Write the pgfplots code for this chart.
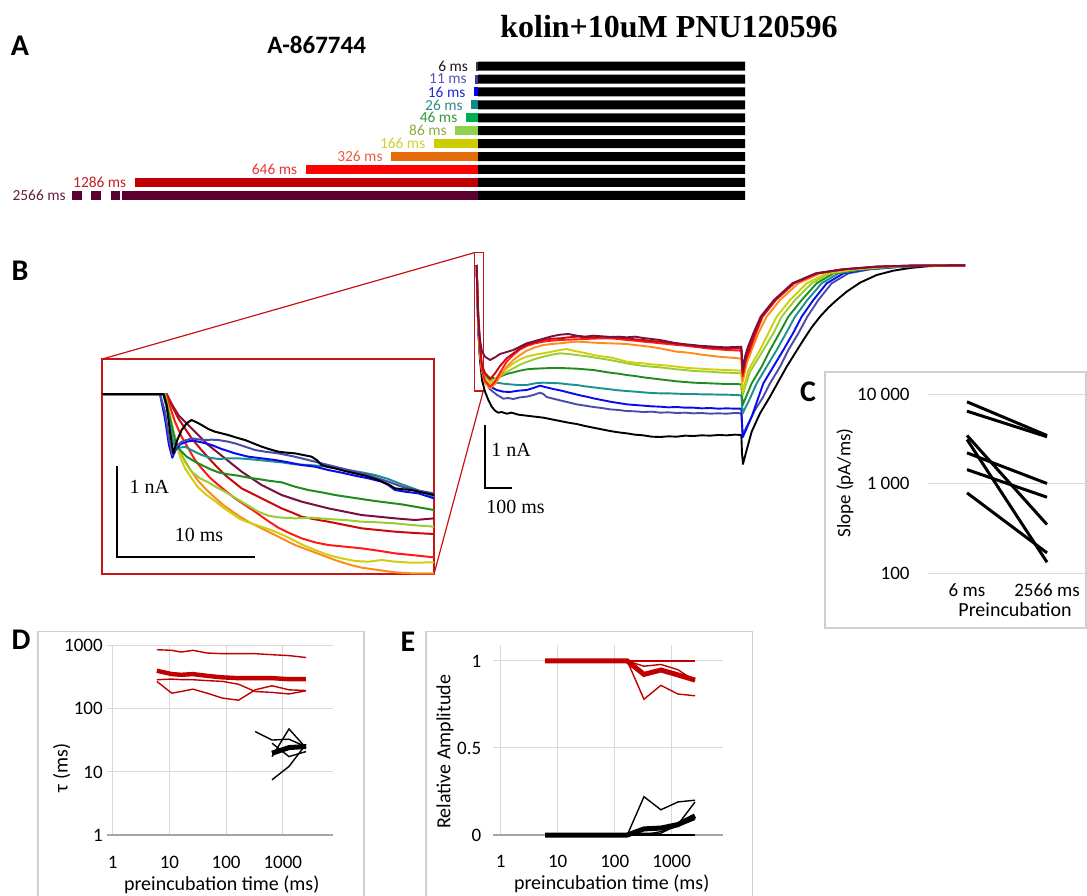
\documentclass[border=0pt]{standalone}
\usepackage{fontspec}
\setmainfont{Carlito}
\newfontfamily\timesfont{Liberation Serif}
\usepackage{pgfplots}
\pgfplotsset{compat=1.18}

\definecolor{tr11}{HTML}{4B4BA8}
\definecolor{tr16}{HTML}{0A0AF0}
\definecolor{tr26}{HTML}{1A9090}
\definecolor{tr46}{HTML}{1E8C1E}
\definecolor{tr86}{HTML}{9ACD32}
\definecolor{tr166}{HTML}{CFCF10}
\definecolor{tr326}{HTML}{FF8C1A}
\definecolor{tr646}{HTML}{FF1A1A}
\definecolor{tr1286}{HTML}{C80A0A}
\definecolor{tr2566}{HTML}{7A1040}
\definecolor{bar6}{HTML}{3A3A4A}
\definecolor{bar11}{HTML}{3C3C9C}
\definecolor{bar16}{HTML}{0000FF}
\definecolor{bar26}{HTML}{0E8A8A}
\definecolor{bar46}{HTML}{00B050}
\definecolor{bar86}{HTML}{92D050}
\definecolor{bar166}{HTML}{CCCC00}
\definecolor{bar326}{HTML}{E46C0A}
\definecolor{bar646}{HTML}{FF0000}
\definecolor{bar1286}{HTML}{C00000}
\definecolor{bar2566}{HTML}{5C0030}
\definecolor{lab6}{HTML}{1A1A1A}
\definecolor{lab11}{HTML}{5555B0}
\definecolor{lab16}{HTML}{2525E0}
\definecolor{lab26}{HTML}{2E8A8A}
\definecolor{lab46}{HTML}{2E9A3A}
\definecolor{lab86}{HTML}{8AAE3A}
\definecolor{lab166}{HTML}{D0D030}
\definecolor{lab326}{HTML}{E8603A}
\definecolor{lab646}{HTML}{EE3030}
\definecolor{lab1286}{HTML}{C02020}
\definecolor{lab2566}{HTML}{602040}
\definecolor{boxred}{HTML}{C81414}
\definecolor{datred}{HTML}{C00000}
\definecolor{gridgray}{HTML}{D9D9D9}
\definecolor{framegray}{HTML}{D0D0D0}
\definecolor{axisgray}{HTML}{A6A6A6}

\pgfplotsset{
  panel/.style={scale only axis, no markers, clip=false,
    every tick label/.append style={inner sep=0pt, font=\fontsize{9.5}{11}\selectfont},
    tick style={draw=none}, axis line style={draw=none},
    grid style={draw=gridgray, line width=0.5pt}},
  trace/.style={line width=0.95pt, line join=round},
  itrace/.style={line width=1pt, line join=round},
  cline/.style={black, line width=1.5pt},
}

\begin{document}
\begin{tikzpicture}
\begin{scope}[x=0.5pt,y=-0.5pt]
\path[use as bounding box] (0,0) rectangle (1087,895);
% ---------------- titles and panel letters
\node[font=\bfseries\fontsize{15}{18}\selectfont] at (20,45.5) {A};
\node[font=\bfseries\fontsize{12.5}{15}\selectfont] at (316.7,45) {A-867744};
\node[font=\timesfont\bfseries\fontsize{16}{19}\selectfont, anchor=base] at (669,37) {kolin+10uM PNU120596};
\node[font=\bfseries\fontsize{15}{18}\selectfont] at (20,271) {B};
\node[font=\bfseries\fontsize{15}{18}\selectfont] at (808,392) {C};
\node[font=\bfseries\fontsize{15}{18}\selectfont] at (21,640) {D};
\node[font=\bfseries\fontsize{15}{18}\selectfont] at (408,642) {E};
% zoom box and connectors
\draw[boxred, line width=0.75pt] (474.3,252.7) rectangle (483.3,391);
\draw[boxred, line width=0.6pt] (474.3,252.7) -- (102.3,359);
\draw[boxred, line width=0.6pt] (483.3,391) -- (434,574);
% B scale bar
\draw[black, line width=1.1pt] (485,425) -- (485,488) -- (512.3,488);
\node[font=\timesfont\fontsize{10}{12}\selectfont, anchor=west, inner sep=0pt] at (491,450) {1 nA};
\node[font=\timesfont\fontsize{10}{12}\selectfont, anchor=west, inner sep=0pt] at (486,507) {100 ms};
% frames
\draw[framegray, line width=0.7pt] (825,372) rectangle (1086,628);
\draw[framegray, line width=0.7pt] (38,896) -- (38,631.5) -- (364,631.5) -- (364,896);
\draw[framegray, line width=0.7pt] (426,896) -- (426,631.7) -- (752.7,631.7) -- (752.7,896);
% axis titles
\node[rotate=90, font=\fontsize{9.5}{11}\selectfont] at (845,483) {Slope (pA/ms)};
\node[font=\fontsize{10}{12}\selectfont] at (1015,610) {Preincubation};
\node[rotate=90, font=\fontsize{10}{12}\selectfont] at (61.7,768) {τ (ms)};
\node[font=\fontsize{10}{12}\selectfont] at (221.7,885) {preincubation time (ms)};
\node[rotate=90, font=\fontsize{10}{12}\selectfont] at (445,751.7) {Relative Amplitude};
\node[font=\fontsize{10}{12}\selectfont] at (611.7,883.3) {preincubation time (ms)};
\end{scope}

% ---------------- Panel A: protocol bars (ms)
\begin{axis}[at={(32.075pt,-29.85pt)}, anchor=north west, scale only axis,
  width=340.43pt, height=71pt, xmin=-1550, xmax=1000, ymin=-0.5, ymax=10.5,
  y dir=reverse, hide axis, clip=false]
\pgfplotsset{every axis plot/.append style={xbar, bar width=4.5pt, bar shift=0pt, draw=none}}
\addplot[fill=black] coordinates {(1000,0) (1000,1) (1000,2) (1000,3) (1000,4) (1000,5) (1000,6) (1000,7) (1000,8) (1000,9) (1000,10)};
\addplot[fill=bar6] coordinates {(-6,0)};
\addplot[fill=bar11] coordinates {(-11,1)};
\addplot[fill=bar16] coordinates {(-16,2)};
\addplot[fill=bar26] coordinates {(-26,3)};
\addplot[fill=bar46] coordinates {(-46,4)};
\addplot[fill=bar86] coordinates {(-86,5)};
\addplot[fill=bar166] coordinates {(-166,6)};
\addplot[fill=bar326] coordinates {(-326,7)};
\addplot[fill=bar646] coordinates {(-646,8)};
\addplot[fill=bar1286] coordinates {(-1286,9)};
\addplot[fill=bar2566] coordinates {(-1333,10)};
\end{axis}
\begin{axis}[at={(32.075pt,-29.85pt)}, anchor=north west, scale only axis,
  width=340.43pt, height=71pt, xmin=-1550, xmax=1000, ymin=-0.5, ymax=10.5,
  y dir=reverse, hide axis, clip=false]
\addplot[fill=bar2566, draw=none] coordinates {(-1374,9.65) (-1341,9.65) (-1341,10.35) (-1374,10.35)} -- cycle;
\addplot[fill=bar2566, draw=none] coordinates {(-1449,9.65) (-1412,9.65) (-1412,10.35) (-1449,10.35)} -- cycle;
\addplot[fill=bar2566, draw=none] coordinates {(-1521,9.65) (-1483,9.65) (-1483,10.35) (-1521,10.35)} -- cycle;
\begin{scope}[every node/.style={anchor=east, inner sep=0pt, font=\fontsize{7.7}{9}\selectfont}]
\node[text=lab6] at (axis cs:-36,0) {6 ms};
\node[text=lab11] at (axis cs:-41,1) {11 ms};
\node[text=lab16] at (axis cs:-46,2) {16 ms};
\node[text=lab26] at (axis cs:-56,3) {26 ms};
\node[text=lab46] at (axis cs:-76,4) {46 ms};
\node[text=lab86] at (axis cs:-116,5) {86 ms};
\node[text=lab166] at (axis cs:-196,6) {166 ms};
\node[text=lab326] at (axis cs:-356,7) {326 ms};
\node[text=lab646] at (axis cs:-676,8) {646 ms};
\node[text=lab1286] at (axis cs:-1316,9) {1286 ms};
\node[text=lab2566] at (axis cs:-1543,10) {2566 ms};
\end{scope}
\end{axis}

% ---------------- Panel B: current traces (pixel-scale units)
\begin{axis}[at={(230pt,-120pt)}, anchor=north west, scale only axis, width=265pt, height=120pt,
  xmin=0, xmax=1590, ymin=0, ymax=720, y dir=reverse, hide axis, clip=false, no markers]
\addplot[trace, black] coordinates {(50,75) (52,170) (55,270) (60,360) (66,420) (75,455) (85,480) (95,500) (105,512) (115,518) (125,516) (140,521) (155,518) (175,524) (200,527) (225,530) (250,533) (275,538) (300,543) (325,548) (350,552) (375,558) (400,563) (425,568) (450,573) (475,577) (500,580) (525,584) (550,586) (575,590) (600,591) (625,589) (650,590) (675,587) (700,588) (725,586) (750,587) (775,585) (800,586) (825,584) (844,585) (846,640) (849,672) (852,660) (860,630) (875,575) (900,520) (930,470) (955,425) (980,380) (1005,340) (1030,300) (1055,262) (1080,230) (1105,203) (1130,180) (1160,155) (1200,128) (1250,105) (1300,92) (1350,84) (1400,79) (1450,77) (1515,76)};
\addplot[trace, tr11] coordinates {(50,75) (52,170) (55,270) (60,350) (66,395) (75,425) (90,448) (110,464) (130,476) (145,474) (160,477) (180,472) (200,470) (220,465) (240,458) (250,462) (260,471) (280,476) (300,481) (325,487) (350,493) (375,497) (400,501) (425,504) (450,508) (475,510) (500,513) (525,514) (550,516) (575,515) (600,518) (625,517) (650,519) (675,518) (700,520) (725,519) (750,521) (775,520) (800,521) (825,519) (844,520) (848,585) (860,560) (885,510) (910,470) (930,430) (960,380) (985,330) (1015,280) (1042,230) (1075,180) (1115,130) (1165,100) (1230,88) (1330,80) (1430,77) (1515,76)};
\addplot[trace, tr16] coordinates {(50,75) (52,170) (55,270) (60,350) (66,395) (75,420) (85,435) (95,442) (110,450) (130,455) (150,456) (175,452) (200,450) (220,444) (240,437) (255,441) (280,447) (300,451) (320,456) (340,461) (360,466) (380,470) (400,475) (425,480) (450,485) (475,489) (500,493) (525,495) (550,497) (575,499) (600,500) (625,502) (650,501) (675,503) (700,503) (725,505) (750,504) (775,506) (800,505) (825,506) (844,506) (848,592) (860,565) (875,530) (910,430) (940,380) (970,330) (1000,278) (1025,230) (1060,180) (1100,130) (1150,100) (1220,88) (1320,80) (1420,77) (1515,76)};
\addplot[trace, tr26] coordinates {(50,75) (52,165) (55,260) (60,345) (66,385) (75,405) (90,420) (110,428) (130,431) (150,433) (175,435) (200,435) (225,430) (250,428) (275,429) (300,430) (325,433) (350,435) (375,439) (400,442) (425,445) (450,448) (475,451) (500,453) (525,455) (550,457) (575,459) (600,460) (625,460) (650,461) (675,462) (700,462) (725,463) (750,463) (775,464) (800,464) (825,465) (844,466) (848,520) (870,475) (890,430) (920,380) (950,330) (978,280) (1005,230) (1042,180) (1085,130) (1135,100) (1210,88) (1310,80) (1410,77) (1515,76)};
\addplot[trace, tr46] coordinates {(50,75) (52,165) (55,255) (60,340) (66,380) (75,400) (90,414) (110,415) (125,408) (140,402) (160,397) (180,392) (200,388) (225,386) (250,385) (275,384) (300,384) (325,385) (350,386) (375,388) (400,390) (425,394) (450,398) (475,401) (500,405) (525,408) (550,412) (575,415) (600,418) (625,421) (650,424) (675,426) (700,428) (725,429) (750,430) (775,431) (800,432) (825,432) (844,433) (848,495) (875,430) (905,380) (930,330) (958,280) (985,230) (1025,180) (1070,130) (1120,100) (1200,88) (1300,80) (1400,77) (1515,76)};
\addplot[trace, tr86] coordinates {(50,75) (52,160) (55,250) (60,335) (66,385) (75,412) (90,424) (105,418) (120,408) (140,396) (160,385) (180,374) (200,366) (225,357) (250,350) (275,344) (300,340) (325,342) (350,345) (375,348) (400,352) (425,356) (450,360) (475,365) (500,370) (525,374) (550,378) (575,380) (600,382) (625,385) (650,388) (675,390) (700,393) (725,394) (750,395) (775,397) (800,398) (825,399) (844,400) (848,465) (870,395) (910,330) (940,280) (965,230) (1005,180) (1055,130) (1110,100) (1190,88) (1290,80) (1390,77) (1515,76)};
\addplot[trace, tr166] coordinates {(50,75) (52,160) (55,250) (60,335) (66,390) (75,420) (90,430) (105,418) (120,402) (140,385) (160,370) (180,358) (200,350) (225,344) (250,340) (275,335) (300,330) (320,327) (340,332) (360,336) (380,340) (400,345) (425,349) (450,352) (475,358) (500,365) (525,368) (550,370) (575,373) (600,375) (625,377) (650,380) (675,383) (700,385) (725,386) (750,388) (775,389) (800,390) (825,391) (844,392) (848,455) (865,390) (900,330) (925,280) (950,230) (990,180) (1040,130) (1100,100) (1180,88) (1280,80) (1380,77) (1515,76)};
\addplot[trace, tr326] coordinates {(50,75) (52,155) (55,245) (60,330) (66,395) (75,430) (90,445) (105,432) (120,410) (140,380) (160,360) (180,345) (200,332) (225,322) (250,315) (275,312) (300,310) (325,307) (350,305) (375,306) (400,308) (425,309) (450,310) (475,311) (500,312) (525,315) (550,318) (575,321) (600,325) (625,330) (650,335) (675,337) (700,340) (725,344) (750,347) (775,350) (800,352) (825,354) (844,356) (848,425) (860,370) (875,330) (895,280) (920,230) (960,180) (1015,130) (1080,100) (1160,88) (1260,80) (1360,77) (1515,76)};
\addplot[trace, tr646] coordinates {(50,75) (52,155) (55,240) (60,325) (66,390) (75,422) (90,440) (105,425) (120,398) (140,365) (160,345) (180,328) (200,318) (225,310) (250,305) (275,302) (300,300) (325,299) (350,298) (375,297) (400,296) (425,295) (450,295) (475,297) (500,300) (525,302) (550,305) (575,307) (600,310) (625,312) (650,315) (675,317) (700,320) (725,323) (750,326) (775,328) (800,330) (825,331) (844,332) (848,410) (858,360) (870,330) (888,280) (908,230) (948,180) (1003,130) (1073,100) (1153,88) (1253,80) (1353,77) (1515,76)};
\addplot[trace, tr1286] coordinates {(50,75) (52,155) (55,240) (60,320) (66,375) (75,400) (90,418) (105,400) (120,378) (140,355) (160,340) (180,325) (200,315) (225,306) (250,300) (275,296) (300,295) (325,292) (350,290) (375,291) (400,292) (425,290) (450,291) (475,293) (500,295) (525,298) (550,300) (575,303) (600,305) (625,308) (650,310) (675,313) (700,317) (725,320) (750,322) (775,324) (800,325) (825,325) (844,326) (848,400) (856,360) (866,330) (884,280) (905,230) (945,180) (1000,130) (1070,100) (1150,88) (1250,80) (1350,77) (1515,76)};
\addplot[trace, tr2566] coordinates {(50,75) (52,150) (55,230) (60,300) (66,335) (75,350) (90,360) (105,352) (120,342) (140,336) (160,330) (180,320) (200,310) (225,303) (250,296) (275,289) (300,284) (325,282) (350,287) (375,290) (400,287) (425,289) (450,291) (475,290) (500,292) (525,290) (550,294) (575,297) (600,300) (625,305) (650,310) (675,313) (700,315) (725,318) (750,319) (775,321) (800,322) (825,321) (844,320) (848,390) (855,350) (864,320) (880,280) (902,230) (942,180) (997,130) (1067,100) (1147,88) (1247,80) (1347,77) (1515,76)};
\end{axis}

% ---------------- Inset (pixel-scale units)
\begin{axis}[at={(51.15pt,-179.5pt)}, anchor=north west, scale only axis, width=165.85pt, height=107.5pt,
  xmin=22, xmax=1017, ymin=102, ymax=747, y dir=reverse, xtick=\empty, ytick=\empty,
  axis line style={draw=boxred, line width=1pt}, no markers, clip=true]
\addplot[itrace, tr2566] coordinates {(22,207) (215,207) (232,240) (250,270) (270,290) (290,310) (315,335) (340,360) (365,380) (390,400) (415,420) (440,440) (470,460) (500,480) (530,495) (560,510) (590,520) (620,530) (660,540) (700,550) (750,560) (800,570) (850,575) (900,580) (960,585) (1017,580)};
\addplot[itrace, tr1286] coordinates {(22,207) (215,207) (232,245) (250,280) (270,310) (290,340) (315,370) (340,398) (365,425) (390,450) (415,470) (440,490) (470,505) (500,520) (530,535) (560,550) (590,562) (620,575) (660,583) (700,590) (750,600) (800,610) (850,615) (900,620) (960,624) (1017,627)};
\addplot[itrace, tr646] coordinates {(22,207) (212,207) (225,245) (240,290) (260,335) (280,370) (300,405) (320,430) (345,458) (370,480) (395,500) (420,520) (450,540) (480,560) (515,585) (550,608) (585,625) (620,640) (660,652) (700,660) (750,665) (800,670) (850,677) (900,685) (950,690) (1017,697)};
\addplot[itrace, tr326] coordinates {(22,207) (208,207) (220,255) (235,320) (252,370) (270,410) (290,440) (310,468) (335,495) (360,518) (385,540) (410,558) (435,575) (460,590) (490,605) (520,620) (560,640) (600,660) (640,675) (680,690) (720,705) (760,718) (800,728) (850,735) (900,742) (950,745) (1017,745)};
\addplot[itrace, tr166] coordinates {(22,207) (210,207) (225,270) (240,340) (255,395) (270,430) (290,460) (310,488) (335,510) (360,528) (385,548) (410,565) (435,582) (460,592) (490,602) (520,612) (550,624) (585,640) (620,658) (660,675) (700,690) (740,700) (780,708) (820,710) (860,705) (900,710) (950,713) (1017,712)};
\addplot[itrace, tr86] coordinates {(22,207) (208,207) (225,275) (240,340) (260,390) (290,440) (315,460) (340,472) (365,487) (390,500) (415,515) (440,530) (465,545) (490,560) (520,572) (550,577) (600,580) (650,578) (700,582) (750,585) (800,590) (850,592) (900,595) (950,600) (1017,605)};
\addplot[itrace, tr46] coordinates {(22,207) (208,207) (225,280) (240,345) (255,375) (275,395) (300,410) (320,420) (345,432) (370,442) (400,448) (430,452) (460,458) (490,462) (520,467) (560,472) (600,485) (640,495) (680,502) (720,510) (760,516) (800,522) (840,528) (880,533) (920,538) (960,545) (1017,555)};
\addplot[itrace, tr26] coordinates {(22,207) (205,207) (220,270) (232,340) (242,370) (255,368) (270,365) (295,378) (320,390) (345,398) (370,402) (400,400) (430,400) (460,402) (490,405) (520,408) (560,412) (600,418) (640,420) (680,423) (720,428) (760,435) (800,442) (840,450) (880,462) (920,478) (960,492) (1017,515)};
\addplot[itrace, tr16] coordinates {(22,207) (195,207) (210,280) (222,360) (232,398) (242,375) (255,358) (275,350) (295,347) (320,352) (350,360) (380,372) (420,385) (460,395) (500,400) (540,405) (580,412) (620,420) (660,425) (700,435) (740,443) (780,452) (820,460) (860,470) (880,480) (900,495) (930,500) (970,505) (1017,520)};
\addplot[itrace, tr11] coordinates {(22,207) (195,207) (210,260) (222,340) (232,390) (245,365) (260,350) (290,340) (310,343) (330,345) (350,344) (370,345) (400,350) (420,355) (450,365) (480,375) (510,380) (550,385) (590,393) (620,400) (660,410) (700,420) (740,430) (780,440) (820,450) (850,460) (880,470) (920,485) (960,495) (1017,505)};
\addplot[itrace, black] coordinates {(22,207) (205,207) (215,240) (225,320) (235,385) (245,350) (260,315) (275,295) (290,285) (305,292) (320,300) (340,312) (360,320) (380,325) (400,330) (425,338) (450,345) (475,355) (500,365) (525,373) (550,380) (575,383) (600,385) (625,390) (650,395) (665,405) (680,420) (700,426) (720,430) (750,438) (780,445) (810,452) (850,465) (880,478) (900,490) (925,493) (950,495) (980,502) (1017,510)};
\draw[black, line width=1pt] (axis cs:65,422) -- (axis cs:65,697) -- (axis cs:480,697);
\node[font=\timesfont\fontsize{10}{12}\selectfont] at (axis cs:163,485) {1 nA};
\node[font=\timesfont\fontsize{10}{12}\selectfont] at (axis cs:312,630) {10 ms};
\end{axis}

% ---------------- Panel C
\begin{axis}[panel, at={(464pt,-286.5pt)}, anchor=south west, width=78.5pt, height=89.5pt,
  xmin=-0.4875, xmax=1.475, ymode=log, ymin=100, ymax=10000,
  ytick={100,1000,10000}, yticklabels={100,1 000,10 000},
  xtick={0,1}, xticklabels={6 ms,2566 ms}, ymajorgrids,
  yticklabel style={anchor=east, xshift=-9pt},
  xticklabel style={anchor=base, yshift=-11.65pt}]
\addplot[cline] coordinates {(0,8180) (1,3440)};
\addplot[cline] coordinates {(0,6430) (1,3330)};
\addplot[cline] coordinates {(0,3440) (1,348)};
\addplot[cline] coordinates {(0,3100) (1,132)};
\addplot[cline] coordinates {(0,2200) (1,1000)};
\addplot[cline] coordinates {(0,1430) (1,703)};
\addplot[cline] coordinates {(0,787) (1,168)};
\end{axis}

% ---------------- Panel D
\begin{axis}[panel, at={(53.35pt,-417.5pt)}, anchor=south west, width=113.15pt, height=94.65pt,
  xmode=log, ymode=log, xmin=0.783, xmax=7690, ymin=1, ymax=1000,
  xtick={1,10,100,1000}, xticklabels={1,10,100,1000},
  ytick={1,10,100,1000}, yticklabels={1,10,100,1000},
  xmajorgrids, ymajorgrids,
  yticklabel style={anchor=east, xshift=-1.8pt},
  xticklabel style={anchor=base, yshift=-16.5pt}]
\draw[axisgray, line width=0.6pt] (rel axis cs:0,0) -- (rel axis cs:1,0);
\addplot[datred, line width=0.7pt] coordinates {(6,864) (11,845) (16,793) (26,845) (46,766) (86,748) (166,748) (326,748) (646,720) (1286,697) (2566,650)};
\addplot[datred, line width=0.7pt] coordinates {(6,272) (11,177) (16,188) (26,205) (46,177) (86,148) (166,137) (326,200) (646,232) (1286,200) (2566,195)};
\addplot[datred, line width=0.7pt] coordinates {(6,289) (11,296) (16,290) (26,289) (46,280) (86,272) (166,245) (326,188) (646,182) (1286,172) (2566,193)};
\addplot[datred, line width=2.2pt] coordinates {(6,401) (11,355) (16,346) (26,355) (46,333) (86,315) (166,306) (326,306) (646,306) (1286,295) (2566,295)};
\addplot[black, line width=0.7pt] coordinates {(326,43.6) (646,32) (1286,33) (2566,25)};
\addplot[black, line width=0.7pt] coordinates {(646,17.5) (1286,48) (2566,24)};
\addplot[black, line width=0.7pt] coordinates {(646,7.5) (1286,12.2) (2566,27.5)};
\addplot[black, line width=0.7pt] coordinates {(646,28.5) (1286,17.5) (2566,21)};
\addplot[black, line width=2.5pt] coordinates {(646,19.8) (1286,24.3) (2566,25.3)};
\end{axis}

% ---------------- Panel E
\begin{axis}[panel, at={(246.65pt,-417.5pt)}, anchor=south west, width=115pt, height=94.85pt,
  xmode=log, xmin=0.741, xmax=8035, ymin=0, ymax=1.09,
  xtick={1,10,100,1000}, xticklabels={1,10,100,1000},
  ytick={0,0.5,1}, yticklabels={0,0.5,1},
  xmajorgrids, ymajorgrids,
  yticklabel style={anchor=east, xshift=-5.8pt},
  xticklabel style={anchor=base, yshift=-16.35pt}]
\draw[axisgray, line width=0.6pt] (rel axis cs:0,0) -- (rel axis cs:1,0);
\addplot[black, line width=0.7pt] coordinates {(6,0) (11,0) (16,0) (26,0) (46,0) (86,0) (166,0) (326,0) (646,0) (1286,0) (2566,0)};
\addplot[black, line width=0.7pt] coordinates {(6,0) (11,0) (16,0) (26,0) (46,0) (86,0) (166,0) (326,0.22) (646,0.145) (1286,0.19) (2566,0.20)};
\addplot[black, line width=0.7pt] coordinates {(166,0) (326,0.01) (646,0.01) (1286,0.06) (2566,0.19)};
\addplot[black, line width=0.7pt] coordinates {(166,0) (326,0) (646,0.02) (1286,0.05) (2566,0.09)};
\addplot[black, line width=2.5pt] coordinates {(6,0) (11,0) (16,0) (26,0) (46,0) (86,0) (166,0) (326,0.035) (646,0.04) (1286,0.06) (2566,0.11)};
\addplot[datred, line width=0.7pt] coordinates {(6,1) (11,1) (16,1) (26,1) (46,1) (86,1) (166,1) (326,1) (646,1) (1286,1) (2566,1)};
\addplot[datred, line width=0.7pt] coordinates {(166,1) (326,0.78) (646,0.86) (1286,0.81) (2566,0.80)};
\addplot[datred, line width=0.7pt] coordinates {(166,1) (326,0.97) (646,0.98) (1286,0.95) (2566,0.885)};
\addplot[datred, line width=2.5pt] coordinates {(6,1) (11,1) (16,1) (26,1) (46,1) (86,1) (166,1) (326,0.923) (646,0.948) (1286,0.92) (2566,0.89)};
\end{axis}

\end{tikzpicture}
\end{document}
